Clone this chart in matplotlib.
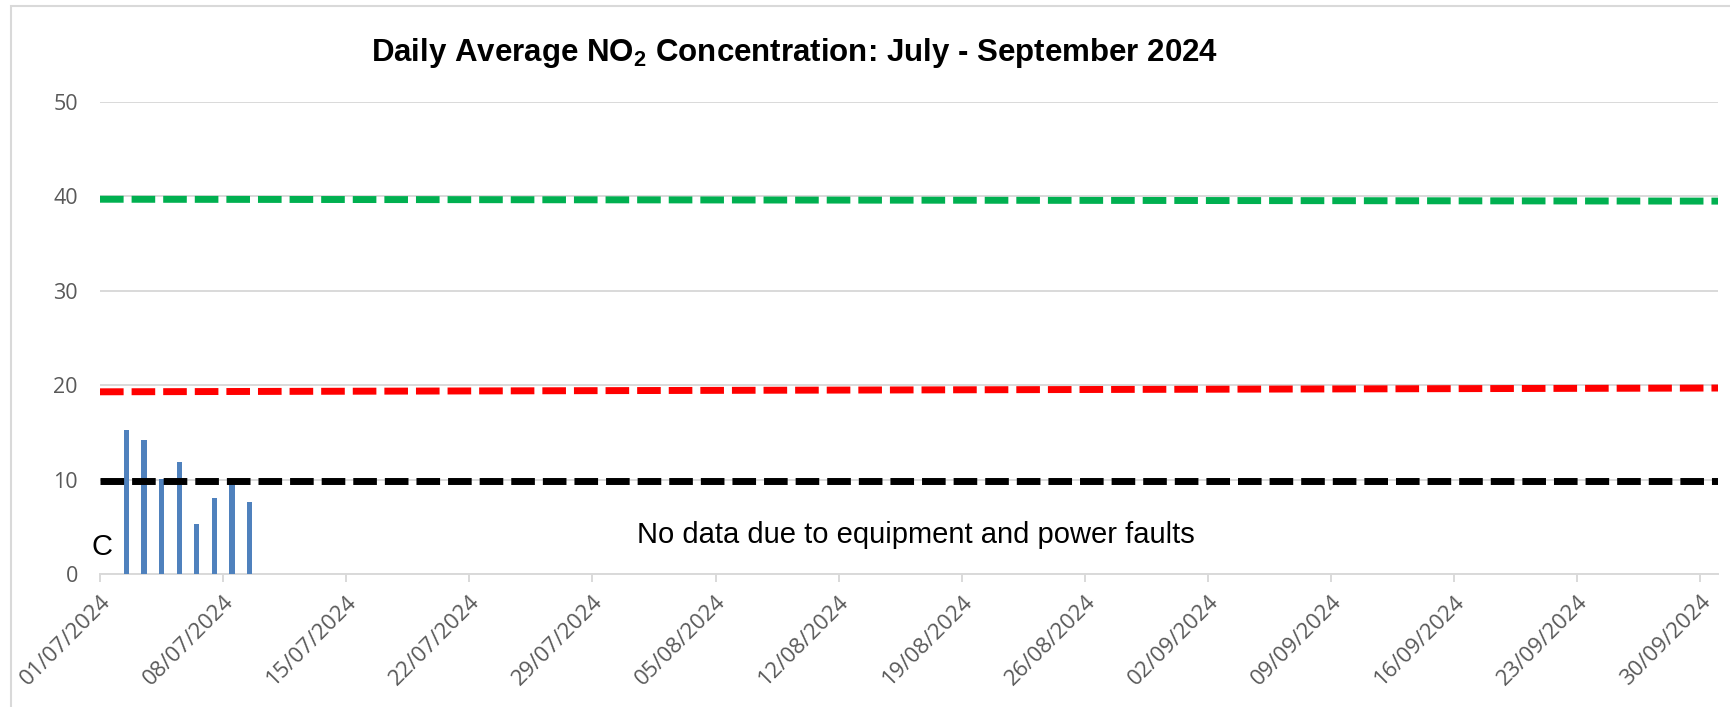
import numpy as np
import pandas as pd
import matplotlib
matplotlib.use('Agg')
import matplotlib.pyplot as plt
import matplotlib.dates as mdates
from matplotlib.patches import Rectangle

plt.rcParams['mathtext.fontset'] = 'custom'
plt.rcParams['mathtext.rm'] = 'Liberation Sans'
plt.rcParams['mathtext.bf'] = 'Liberation Sans:bold'

# daily average NO2 (only the first week has data)
bar_dates = pd.to_datetime(['2024-07-02', '2024-07-03', '2024-07-04', '2024-07-05',
                            '2024-07-06', '2024-07-07', '2024-07-08', '2024-07-09'])
no2_values = [15.3, 14.2, 10.1, 11.9, 5.3, 8.0, 10.1, 7.6]

# reference lines: value at start and end of the period
line_dates = pd.to_datetime(['2024-07-01', '2024-10-01'])
green_line = [39.7, 39.5]
red_line = [19.3, 19.7]
black_line = [9.9, 9.9]

tick_dates = pd.to_datetime(['2024-07-01', '2024-07-08', '2024-07-15', '2024-07-22',
                             '2024-07-29', '2024-08-05', '2024-08-12', '2024-08-19',
                             '2024-08-26', '2024-09-02', '2024-09-09', '2024-09-16',
                             '2024-09-23', '2024-09-30'])
y_ticks = [0, 10, 20, 30, 40, 50]

grid_col = '#D9D9D9'
label_col = '#595959'

fig = plt.figure(figsize=(17.31, 7.07), dpi=100)
ax = fig.add_axes([100 / 1731, 1 - 574 / 707, 1618 / 1731, 472 / 707])

# outer chart border
fig.patches.append(Rectangle((11 / 1731, -0.1), 1.2, 1.1 - 6 / 707, transform=fig.transFigure,
                             fill=False, edgecolor=grid_col, linewidth=1.5))

ax.bar(bar_dates + pd.Timedelta(hours=12), no2_values, width=0.3, color='#4F81BD', zorder=2)

dash = (3.4, 1.15)
ax.plot(line_dates, green_line, color='#00B050', lw=5.0, dashes=dash, zorder=3)
ax.plot(line_dates, red_line, color='#FF0000', lw=5.0, dashes=dash, zorder=3)
ax.plot(line_dates, black_line, color='black', lw=5.0, dashes=dash, zorder=3)

ax.set_xlim(pd.Timestamp('2024-07-01'), pd.Timestamp('2024-10-01'))
ax.set_ylim(0, 50)
ax.set_yticks(y_ticks)
ax.set_xticks(tick_dates)
ax.xaxis.set_major_formatter(mdates.DateFormatter('%d/%m/%Y'))

ax.grid(axis='y', color=grid_col, lw=1.4, zorder=0)
ax.set_axisbelow(True)
for s in ['top', 'right', 'left']:
    ax.spines[s].set_visible(False)
ax.spines['bottom'].set_color(grid_col)
ax.spines['bottom'].set_linewidth(1.4)
ax.spines['bottom'].set_zorder(1)

ax.tick_params(axis='y', length=0, pad=16, labelsize=15.5, labelcolor=label_col)
ax.tick_params(axis='x', length=6, width=1.4, color=grid_col, pad=6, labelsize=16,
               labelcolor=label_col)
for t in ax.get_yticklabels():
    t.set_fontfamily('Open Sans')
for t in ax.get_xticklabels():
    t.set_fontfamily('Open Sans')
    t.set_rotation(45)
    t.set_ha('right')
    t.set_va('top')
    t.set_rotation_mode('anchor')

fig.text(795 / 1731, 1 - 61 / 707, r'Daily Average NO$_\mathbf{2}$ Concentration: July - September 2024',
         ha='center', va='baseline', fontsize=22.5, fontweight='bold', family='Liberation Sans')

ax.text(pd.Timestamp('2024-08-16 10:00'), 3.3, 'No data due to equipment and power faults',
        ha='center', va='baseline', fontsize=21, family='Liberation Sans')
ax.text(pd.Timestamp('2024-06-30 13:00'), 2.0, 'C', ha='left', va='baseline',
        fontsize=21, family='Liberation Sans', clip_on=False)

fig.savefig('out.png', dpi=100)
